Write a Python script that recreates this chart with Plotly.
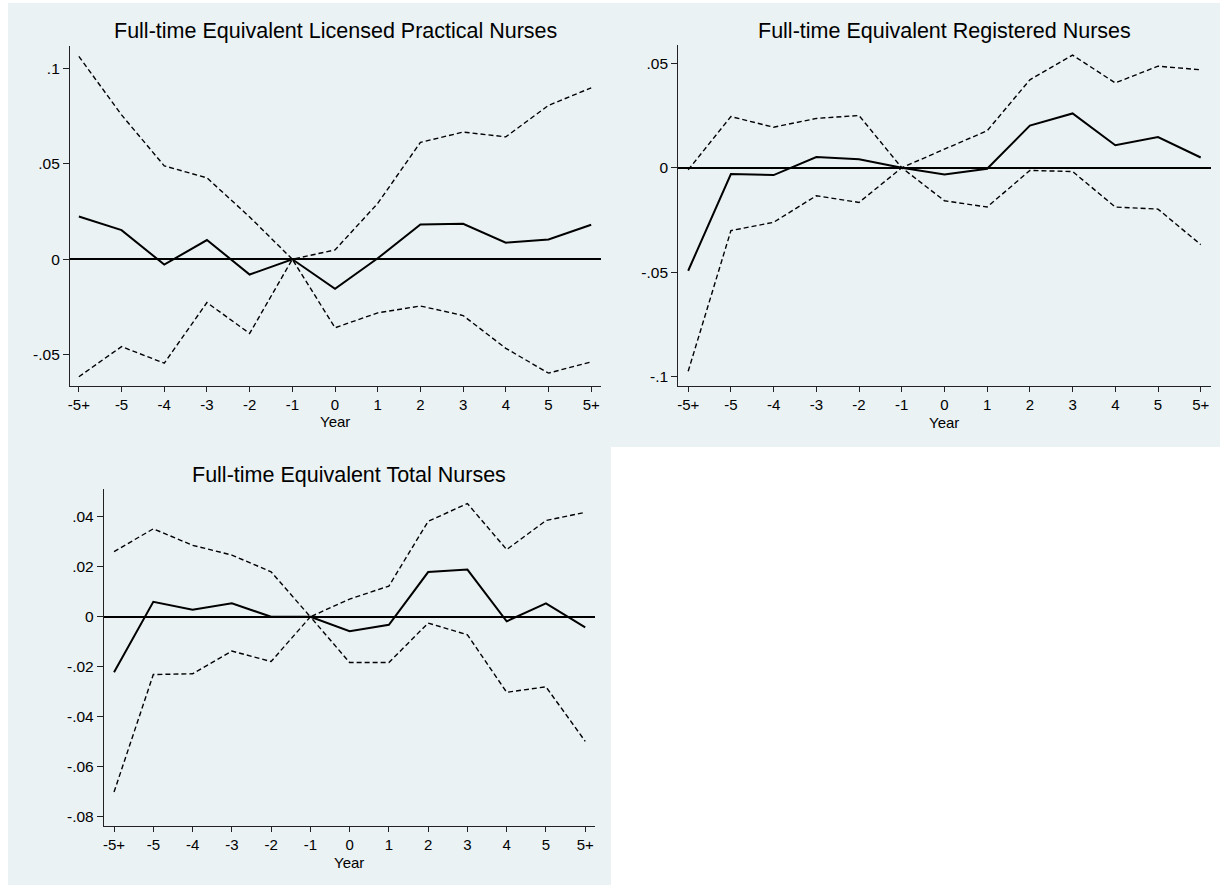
import plotly.graph_objects as go

# ---------------- data ----------------
years = ["-5+", "-5", "-4", "-3", "-2", "-1", "0", "1", "2", "3", "4", "5", "5+"]

lpn_est = [0.0224, 0.0153, -0.0028, 0.0101, -0.0080, 0.0, -0.0155, 0.0005, 0.0182, 0.0186, 0.0087, 0.0104, 0.0181]
lpn_hi = [0.1064, 0.0757, 0.0490, 0.0427, 0.0222, 0.0, 0.0049, 0.0293, 0.0613, 0.0667, 0.0642, 0.0807, 0.0899]
lpn_lo = [-0.0616, -0.0458, -0.0545, -0.0227, -0.0389, 0.0, -0.0359, -0.0281, -0.0245, -0.0295, -0.0467, -0.0597, -0.0538]

rn_est = [-0.0493, -0.0030, -0.0035, 0.0051, 0.0041, 0.0, -0.0032, -0.0005, 0.0202, 0.0260, 0.0108, 0.0147, 0.0049]
rn_hi = [-0.0010, 0.0245, 0.0194, 0.0236, 0.0250, 0.0, 0.0089, 0.0177, 0.0421, 0.0539, 0.0406, 0.0486, 0.0469]
rn_lo = [-0.0974, -0.0301, -0.0261, -0.0134, -0.0166, 0.0, -0.0158, -0.0188, -0.0013, -0.0018, -0.0188, -0.0198, -0.0368]

tot_est = [-0.0222, 0.0060, 0.0028, 0.0054, 0.0000, 0.0, -0.0058, -0.0032, 0.0179, 0.0189, -0.0018, 0.0054, -0.0042]
tot_hi = [0.0261, 0.0352, 0.0286, 0.0247, 0.0180, 0.0, 0.0071, 0.0123, 0.0382, 0.0453, 0.0269, 0.0385, 0.0418]
tot_lo = [-0.0701, -0.0231, -0.0228, -0.0137, -0.0179, 0.0, -0.0183, -0.0183, -0.0025, -0.0072, -0.0302, -0.0280, -0.0498]

titles = ["Full-time Equivalent Licensed Practical Nurses",
          "Full-time Equivalent Registered Nurses",
          "Full-time Equivalent Total Nurses"]

lpn_yticks = [-0.05, 0, 0.05, 0.1]
lpn_ytext = ["-.05", "0", ".05", ".1"]
rn_yticks = [-0.1, -0.05, 0, 0.05]
rn_ytext = ["-.1", "-.05", "0", ".05"]
tot_yticks = [-0.08, -0.06, -0.04, -0.02, 0, 0.02, 0.04]
tot_ytext = ["-.08", "-.06", "-.04", "-.02", "0", ".02", ".04"]

# ---------------- layout geometry (pixels) ----------------
W, H = 1220, 886
BG = "#EAF2F3"
FONT = "Liberation Sans, Arial, sans-serif"

def px_x(v):
    return v / W

def px_y(v):
    return 1 - v / H

panels = [
    dict(est=lpn_est, hi=lpn_hi, lo=lpn_lo, title=titles[0],
         yt=lpn_yticks, ytt=lpn_ytext,
         box=(68, 600, 45.7, 385.7), xr=[-0.21, 12.23], yr=[-0.0663, 0.112]),
    dict(est=rn_est, hi=rn_hi, lo=rn_lo, title=titles[1],
         yt=rn_yticks, ytt=rn_ytext,
         box=(677.3, 1210.7, 45.3, 386.3), xr=[-0.234, 12.234], yr=[-0.1046, 0.0586]),
    dict(est=tot_est, hi=tot_hi, lo=tot_lo, title=titles[2],
         yt=tot_yticks, ytt=tot_ytext,
         box=(102, 594, 489.3, 826.3), xr=[-0.26, 12.25], yr=[-0.0838, 0.051]),
]

xs = list(range(len(years)))

fig = go.Figure()
layout = dict(
    width=W, height=H,
    margin=dict(l=0, r=0, t=0, b=0),
    paper_bgcolor="white",
    plot_bgcolor=BG,
    showlegend=False,
    font=dict(family=FONT, color="black", size=15),
    shapes=[
        dict(type="rect", xref="paper", yref="paper",
             x0=px_x(6), x1=1, y0=px_y(447), y1=px_y(3),
             fillcolor=BG, line=dict(width=0), layer="below"),
        dict(type="rect", xref="paper", yref="paper",
             x0=px_x(6), x1=px_x(610), y0=px_y(885), y1=px_y(447),
             fillcolor=BG, line=dict(width=0), layer="below"),
    ],
    annotations=[],
)

for i, p in enumerate(panels, start=1):
    xa = "x" if i == 1 else f"x{i}"
    ya = "y" if i == 1 else f"y{i}"
    for ser, dash, wdt in ((p["hi"], "5px,3px", 1.4), (p["lo"], "5px,3px", 1.4), (p["est"], "solid", 2)):
        fig.add_trace(go.Scatter(x=xs, y=ser, mode="lines", xaxis=xa, yaxis=ya,
                                 line=dict(color="black", width=wdt, dash=dash),
                                 hoverinfo="skip"))
    x0, x1, y0, y1 = p["box"]
    xkey = "xaxis" if i == 1 else f"xaxis{i}"
    ykey = "yaxis" if i == 1 else f"yaxis{i}"
    layout[xkey] = dict(
        domain=[px_x(x0), px_x(x1)], anchor=ya, range=p["xr"],
        tickmode="array", tickvals=xs, ticktext=years,
        showline=True, linecolor="#222", linewidth=1,
        ticks="outside", ticklen=5, tickcolor="#222", tickwidth=1,
        showgrid=False, zeroline=False,
        tickfont=dict(family=FONT, size=15, color="black"),
    )
    layout[ykey] = dict(
        domain=[px_y(y1), px_y(y0)], anchor=xa, range=p["yr"],
        tickmode="array", tickvals=p["yt"], ticktext=p["ytt"],
        showline=True, linecolor="#222", linewidth=1,
        ticks="outside", ticklen=6, tickcolor="#222", tickwidth=1,
        showgrid=False, zeroline=True, zerolinecolor="black", zerolinewidth=1.5,
        tickfont=dict(family=FONT, size=15.5, color="black"),
    )
    layout["annotations"].append(dict(
        text=p["title"], xref=f"{xa} domain", x=0.5, yref="paper",
        y=px_y(y0 - 14.5), xanchor="center", yanchor="middle", showarrow=False,
        font=dict(family=FONT, size=21.5, color="black")))
    layout["annotations"].append(dict(
        text="Year", xref=f"{xa} domain", x=0.5, yref="paper",
        y=px_y(y1 + 36), xanchor="center", yanchor="middle", showarrow=False,
        font=dict(family=FONT, size=15, color="black")))

fig.update_layout(**layout)
fig.write_html("out.html",
               config={"displayModeBar": False},
               post_script="document.body.style.margin='0px';document.body.style.overflow='hidden';")
